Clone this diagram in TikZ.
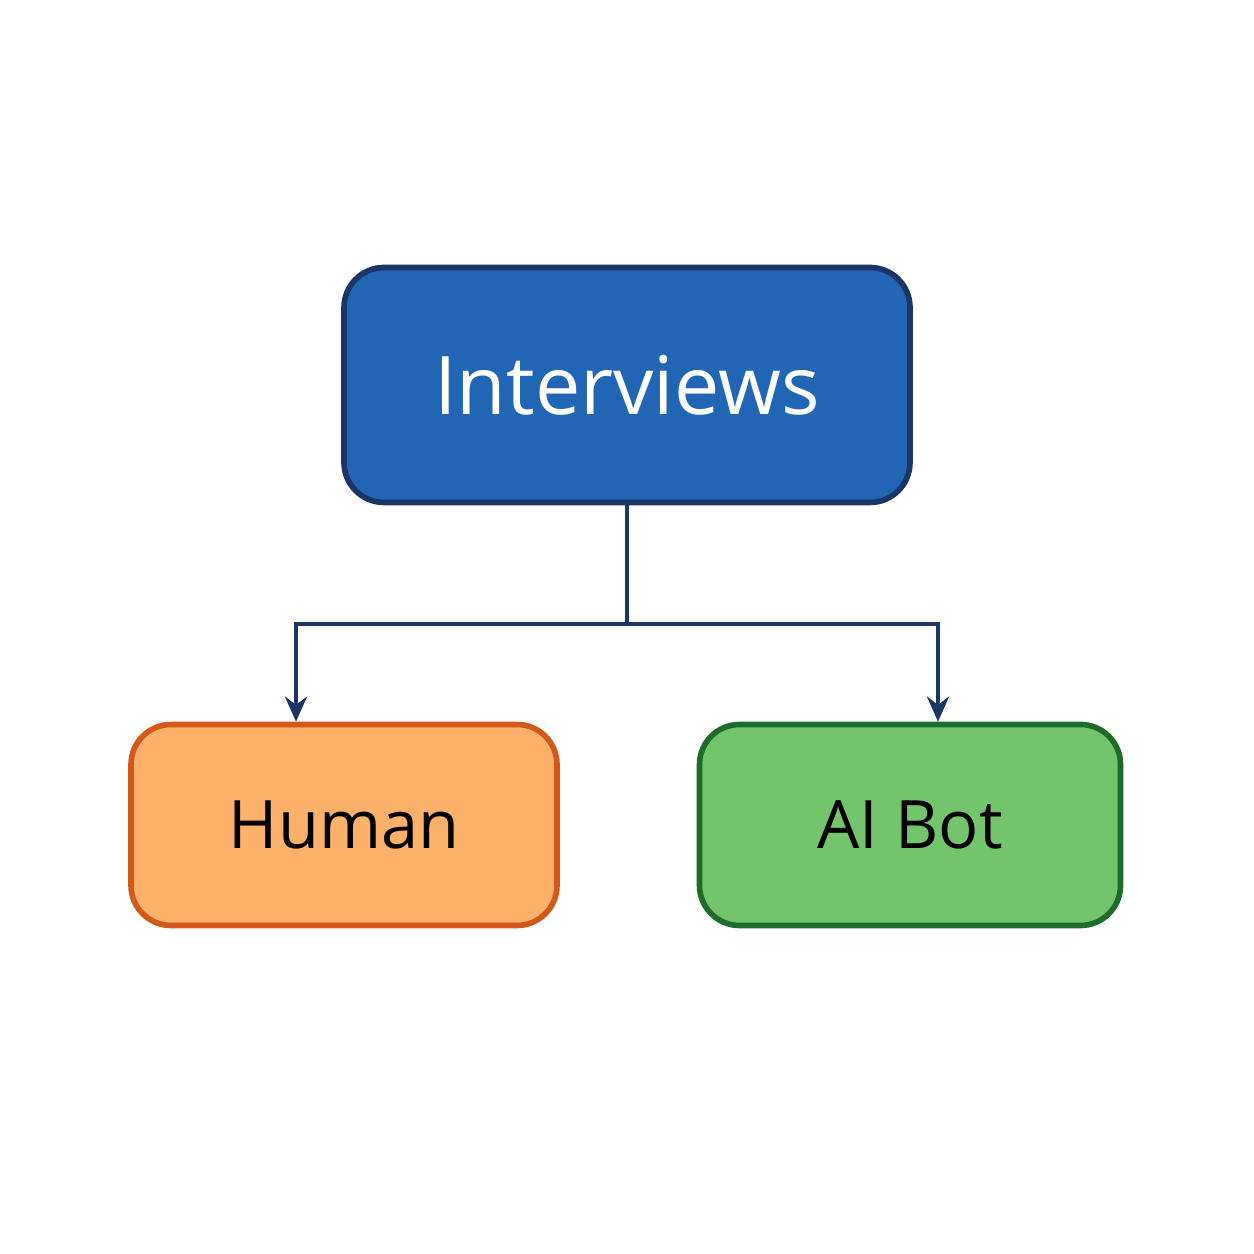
\documentclass[tikz,border=0pt]{standalone}
\usepackage{fontspec}
\setmainfont{Open Sans}
\usetikzlibrary{arrows.meta,calc,positioning}

\definecolor{boxblue}{HTML}{2166B4}
\definecolor{navy}{HTML}{1A3566}
\definecolor{humanfill}{HTML}{FDB06A}
\definecolor{humanline}{HTML}{D4581A}
\definecolor{botfill}{HTML}{74C46E}
\definecolor{botline}{HTML}{1E6B2A}

\begin{document}
\begin{tikzpicture}[>=Stealth,
    box/.style={rounded corners=0.4cm, line width=1.6pt, align=center},
    link/.style={navy, line width=1.4pt}]

    %% Background
    \fill[white] (0,0) rectangle (12.54,12.54);

    % Boxes
    \node[box, fill=boxblue, draw=navy, minimum width=5.66cm, minimum height=2.35cm,
          text=white, font=\fontsize{23}{27}\selectfont] (top) at (6.27,8.69) {Interviews};
    \node[box, fill=humanfill, draw=humanline, minimum width=4.26cm, minimum height=2.01cm,
          font=\fontsize{19}{23}\selectfont] (human) at (3.44,4.29) {Human};
    \node[box, fill=botfill, draw=botline, minimum width=4.21cm, minimum height=2.01cm,
          font=\fontsize{19}{23}\selectfont] (bot) at (9.10,4.29) {AI Bot};

    % Links
    \coordinate (split) at (6.27,6.30);
    \coordinate (humanin) at ($(human.north)+(-0.48,0)$);
    \coordinate (botin) at ($(bot.north)+(0.28,0)$);
    \draw[link] (top.south) -- (split);
    \draw[link, -{Stealth[length=0.25cm,width=0.22cm]}] (split) -| (humanin);
    \draw[link, -{Stealth[length=0.25cm,width=0.22cm]}] (split) -| (botin);

\end{tikzpicture}
\end{document}
